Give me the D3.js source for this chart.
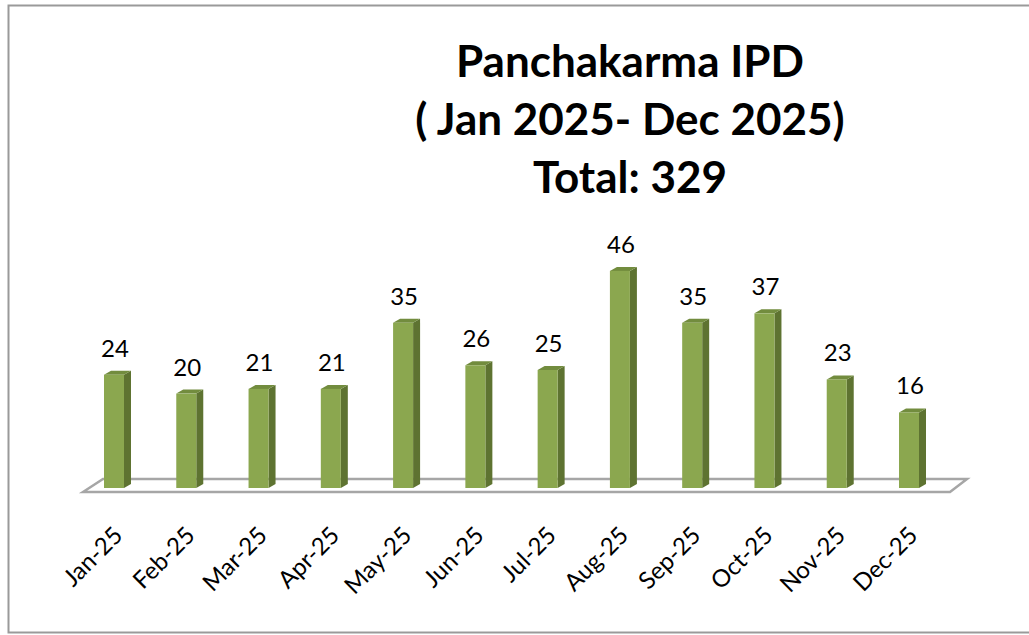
<!DOCTYPE html>
<html>
<head>
<meta charset="utf-8">
<script src="https://cdn.jsdelivr.net/npm/d3@7"></script>
<style>
  body { margin: 0; background: #fff; }
  svg { display: block; font-family: Lato, "Open Sans", sans-serif; }
</style>
</head>
<body>
<div id="chart"></div>
<script>
const months = ['Jan-25', 'Feb-25', 'Mar-25', 'Apr-25', 'May-25', 'Jun-25',
                'Jul-25', 'Aug-25', 'Sep-25', 'Oct-25', 'Nov-25', 'Dec-25'];
const values = [24, 20, 21, 21, 35, 26, 25, 46, 35, 37, 23, 16];
const titleLines = ['Panchakarma IPD', '( Jan 2025- Dec 2025)', 'Total: 329'];

const width = 1029;
const height = 635;
const base = 488;
const halfW = 10;
const dx = 7, dy = 4;

const x = d3.scalePoint().domain(months).range([114, 909]);
const y = d3.scaleLinear().domain([0, 50]).range([base, base - 50 * 4.72]);

const svg = d3.select('#chart').append('svg')
    .attr('width', width)
    .attr('height', height);

// outer frame
svg.append('rect')
    .attr('x', 8.5).attr('y', 5.5)
    .attr('width', 1040).attr('height', 627)
    .attr('fill', 'none')
    .attr('stroke', '#9a9a9a')
    .attr('stroke-width', 2);

// title
svg.append('text')
    .attr('text-anchor', 'middle')
    .attr('font-weight', 'bold')
    .attr('font-size', 44)
    .attr('fill', '#000')
    .selectAll('tspan')
    .data(titleLines)
    .join('tspan')
    .attr('x', 630)
    .attr('y', (d, i) => 77 + i * 58)
    .text(d => d);

// floor
const x0 = x(months[0]), x1 = x(months[months.length - 1]);
const floor = [[x0 - 31, 492], [x0 - 11, 479], [x1 + 58, 479], [x1 + 41, 492]];
svg.append('path')
    .attr('d', d3.line()(floor) + 'Z')
    .attr('fill', '#fff')
    .attr('stroke', '#a6a6a6')
    .attr('stroke-width', 2.5);

const bars = svg.append('g')
    .selectAll('g')
    .data(months.map((m, i) => ({m, v: values[i]})))
    .join('g');

// side face
bars.append('path')
    .attr('d', d => {
        const c = x(d.m), t = y(d.v);
        return d3.line()([[c + halfW, t], [c + halfW + dx, t - dy], [c + halfW + dx, base - dy], [c + halfW, base]]) + 'Z';
    })
    .attr('fill', '#5e7331');

// top face
bars.append('path')
    .attr('d', d => {
        const c = x(d.m), t = y(d.v);
        return d3.line()([[c - halfW, t], [c - halfW + dx, t - dy], [c + halfW + dx, t - dy], [c + halfW, t]]) + 'Z';
    })
    .attr('fill', '#728c3e');

// front face
bars.append('rect')
    .attr('x', d => x(d.m) - halfW)
    .attr('y', d => y(d.v))
    .attr('width', halfW * 2)
    .attr('height', d => base - y(d.v))
    .attr('fill', '#8ba74f');

// value labels
bars.append('text')
    .attr('x', d => x(d.m) + 1)
    .attr('y', d => y(d.v) - 18)
    .attr('text-anchor', 'middle')
    .attr('font-size', 24)
    .attr('fill', '#000')
    .text(d => d.v);

// category labels
svg.append('g')
    .selectAll('text')
    .data(months)
    .join('text')
    .attr('transform', d => `translate(${x(d) + 10},${537}) rotate(-45)`)
    .attr('text-anchor', 'end')
    .attr('font-size', 24)
    .attr('fill', '#000')
    .text(d => d);
</script>
</body>
</html>
